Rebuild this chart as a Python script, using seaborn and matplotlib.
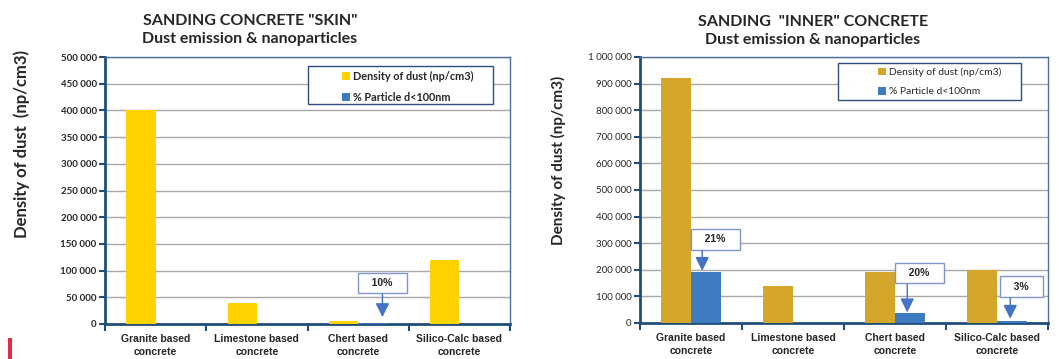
import numpy as np
import pandas as pd
import matplotlib
matplotlib.use("Agg")
import matplotlib.pyplot as plt
import seaborn as sns
from matplotlib.patches import Rectangle

# ---------------- data ----------------
categories = ["Granite based\nconcrete", "Limestone based\nconcrete",
              "Chert based\nconcrete", "Silico-Calc based\nconcrete"]
series_names = ["Density of dust (np/cm3)", "% Particle d<100nm"]

skin_density = [400000, 40000, 6000, 120000]
skin_nano = [0, 0, 2500, 0]
skin_callout_labels = ["10%"]
skin_callout_cats = [2]

inner_density = [920000, 140000, 190000, 200000]
inner_nano = [193000, 0, 38000, 6000]
inner_callout_labels = ["21%", "20%", "3%"]
inner_callout_cats = [0, 2, 3]

skin_title = 'SANDING CONCRETE "SKIN"\nDust emission & nanoparticles'
inner_title = 'SANDING  "INNER" CONCRETE\nDust emission & nanoparticles'
skin_ylabel = "Density of dust  (np/cm3)"
inner_ylabel = "Density of dust (np/cm3)"

# ---------------- style ----------------
sns.set_theme(style="white")
plt.rcParams["font.family"] = ["Liberation Sans", "DejaVu Sans"]

NAVY = "#1F4E79"
FRAME = "#4F6E9A"
GRID = "#A8A8A8"
BLUE = "#3E7BC0"
YEL_SKIN = "#FFD200"
YEL_INNER = "#D4A72C"
BOX_EDGE = "#7F96C8"
TITLE_FONT = ["Lato", "DejaVu Sans"]


def make_df(dens, nano):
    rows = []
    for c, d, n in zip(categories, dens, nano):
        rows.append({"cat": c, "series": series_names[0], "value": d})
        rows.append({"cat": c, "series": series_names[1], "value": n})
    return pd.DataFrame(rows)


def fmt(v, pos):
    return f"{int(v):,}".replace(",", " ")


def draw(ax, df, yellow, ymax, ystep, bold_ticks, legend_rect, legend_anchor,
         legend_bold, legend_size, callouts):
    sns.barplot(data=df, x="cat", y="value", hue="series",
                palette=[yellow, BLUE], width=0.58, dodge=True,
                saturation=1, ax=ax, legend=True, zorder=3, linewidth=0)
    ax.set_xlim(-0.5, 3.5)
    ax.set_ylim(0, ymax)
    ax.set_yticks(np.arange(0, ymax + 1, ystep))
    ax.yaxis.set_major_formatter(matplotlib.ticker.FuncFormatter(fmt))
    ax.set_xlabel("")
    ax.set_ylabel("")
    ax.grid(axis="y", color=GRID, linewidth=1.0, zorder=0)
    ax.set_axisbelow(True)
    for s in ["top", "right"]:
        ax.spines[s].set_visible(True)
        ax.spines[s].set_color(FRAME)
        ax.spines[s].set_linewidth(1.0)
    for s in ["left", "bottom"]:
        ax.spines[s].set_color(NAVY)
        ax.spines[s].set_linewidth(2.0)
    ax.tick_params(axis="y", which="major", direction="out", length=4,
                   width=1.5, color=NAVY, pad=2, left=True)
    ax.tick_params(axis="x", which="major", length=0, pad=7)
    ax.set_xticks(np.arange(-0.5, 4.0, 1.0), minor=True)
    ax.tick_params(axis="x", which="minor", direction="out", length=5,
                   width=1.5, color=NAVY, bottom=True)
    for lab in ax.get_yticklabels():
        lab.set_fontfamily(TITLE_FONT)
        lab.set_fontsize(7)
        lab.set_fontweight("bold" if bold_ticks else "normal")
    for lab in ax.get_xticklabels():
        lab.set_fontsize(7.5)
        lab.set_fontweight("bold")
        lab.set_linespacing(1.35)

    # legend
    x0, y0, x1, y1 = legend_rect
    ax.add_patch(Rectangle((x0, y0), x1 - x0, y1 - y0, transform=ax.transAxes,
                           facecolor="white", edgecolor="#2F4D7E",
                           linewidth=1.0, zorder=5))
    handles, labels = ax.get_legend_handles_labels()
    leg = ax.legend(handles, labels, loc="upper left",
                    bbox_to_anchor=legend_anchor, frameon=False,
                    handlelength=0.8, handleheight=0.8, handletextpad=0.3,
                    labelspacing=0.95,
                    prop={"family": TITLE_FONT, "size": legend_size,
                          "weight": "bold" if legend_bold else "normal"})
    leg.set_zorder(6)

    # callouts
    for label, cat, box_dx, box_y, arrow_dx, arrow_top, arrow_tip in callouts:
        ax.text(cat + box_dx, box_y, "   " + label + "   ", ha="center",
                va="center", fontsize=7.5, fontweight="bold", zorder=7,
                bbox=dict(boxstyle="square,pad=0.5", facecolor="white",
                          edgecolor=BOX_EDGE, linewidth=1.0))
        ax.annotate("", xy=(cat + arrow_dx, arrow_tip),
                    xytext=(cat + arrow_dx, arrow_top),
                    arrowprops=dict(arrowstyle="-|>,head_length=0.7,head_width=0.35",
                                    color="#4472C4", lw=1.0,
                                    shrinkA=0, shrinkB=0),
                    zorder=7)


fig = plt.figure(figsize=(10.59, 3.59), dpi=100)
ax1 = fig.add_axes([0.0992, 0.0975, 0.3824, 0.7437])
ax2 = fig.add_axes([0.6043, 0.1003, 0.3853, 0.7410])

draw(ax1, make_df(skin_density, skin_nano), YEL_SKIN, 500000, 50000, True,
     (0.500, 0.824, 0.957, 0.967), (0.56, 0.985), True, 7.8,
     [(skin_callout_labels[0], skin_callout_cats[0], 0.24, 77000, 0.24, 56000, 13000)])

draw(ax2, make_df(inner_density, inner_nano), YEL_INNER, 1000000, 100000, False,
     (0.485, 0.838, 0.934, 0.977), (0.56, 0.995), False, 7.4,
     [(inner_callout_labels[0], inner_callout_cats[0], 0.24, 314000, 0.11, 272000, 196000),
      (inner_callout_labels[1], inner_callout_cats[1], 0.24, 188000, 0.12, 145000, 40000),
      (inner_callout_labels[2], inner_callout_cats[2], 0.24, 137000, 0.13, 94000, 16000)])

# titles and y labels
fig.text(250 / 1059, 1 - 30 / 359, skin_title, ha="center", va="center",
         fontsize=11.5, fontweight="bold", family=TITLE_FONT, linespacing=1.3)
fig.text(813 / 1059, 1 - 31 / 359, inner_title, ha="center", va="center",
         fontsize=11.5, fontweight="bold", family=TITLE_FONT, linespacing=1.3)
fig.text(22 / 1059, 1 - 144 / 359, skin_ylabel, rotation=90, ha="center",
         va="center", fontsize=12, fontweight="bold", family=TITLE_FONT)
fig.text(558 / 1059, 1 - 160 / 359, inner_ylabel, rotation=90, ha="center",
         va="center", fontsize=11, fontweight="bold", family=TITLE_FONT)

# small red mark at lower left
fig.patches.append(Rectangle((8 / 1059, 0), 4 / 1059, 21 / 359,
                             transform=fig.transFigure, facecolor="#E8294A",
                             edgecolor="none"))

fig.savefig("out.png", dpi=100)
